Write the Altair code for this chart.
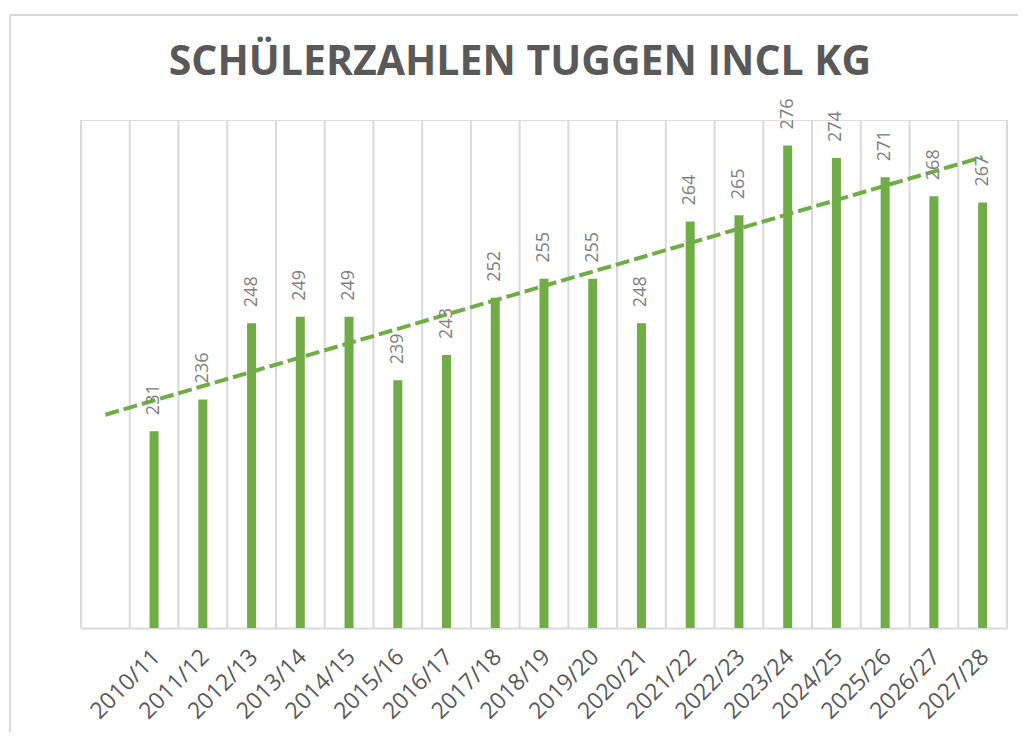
import json
import altair as alt
import pandas as pd

# ---- data ----
categories = ["2010/11", "2011/12", "2012/13", "2013/14", "2014/15", "2015/16",
              "2016/17", "2017/18", "2018/19", "2019/20", "2020/21", "2021/22",
              "2022/23", "2023/24", "2024/25", "2025/26", "2026/27", "2027/28"]
values = [231, 236, 248, 249, 249, 239, 243, 252, 255, 255, 248, 264,
          265, 276, 274, 271, 268, 267]
# the category axis has one empty slot before the first school year
slots = [""] + categories
Y_MIN, Y_MAX = 200, 280

GREEN = "#70AD47"
GRID = "#d9d9d9"
FONT = "Open Sans"

n_slots = len(slots)
df = pd.DataFrame({"idx": list(range(1, n_slots)), "value": values, "cat": categories})
bounds = pd.DataFrame({"b": [i - 0.5 for i in range(n_slots + 1)]})

xscale = alt.Scale(domain=[-0.5, n_slots - 0.5], nice=False, zero=False, padding=0)
yscale = alt.Scale(domain=[Y_MIN, Y_MAX], nice=False, zero=False, padding=0)

label_expr = json.dumps(slots) + "[datum.value]"
x_axis = alt.Axis(values=list(range(1, n_slots)), labelExpr=label_expr,
                  labelAngle=315, labelAlign="right", labelBaseline="middle",
                  labelPadding=25, labelOffset=2, labelFont=FONT, labelFontSize=23,
                  labelColor="#595959", ticks=False, grid=False,
                  domain=True, domainColor=GRID, domainWidth=2,
                  title=None, labelOverlap=False, labelBound=False)

grid = alt.Chart(bounds).mark_rule(color=GRID, strokeWidth=2).encode(
    x=alt.X("b:Q", scale=xscale, axis=x_axis)
)

base = alt.Chart(df)

bars = base.mark_bar(color=GREEN, size=9).encode(
    x=alt.X("idx:Q", scale=xscale, axis=x_axis),
    y=alt.Y("value:Q", scale=yscale, axis=None),
    y2=alt.Y2(datum=Y_MIN),
)

labels = base.mark_text(angle=270, align="left", baseline="middle", dx=16,
                        font=FONT, fontSize=18, color="#808080").encode(
    x=alt.X("idx:Q", scale=xscale, axis=x_axis),
    y=alt.Y("value:Q", scale=yscale, axis=None),
    text=alt.Text("value:Q"),
)

trend = base.transform_regression(
    "idx", "value", method="linear", extent=[0, n_slots - 1]
).mark_line(color=GREEN, strokeWidth=4, strokeDash=[14, 5]).encode(
    x=alt.X("idx:Q", scale=xscale, axis=x_axis),
    y=alt.Y("value:Q", scale=yscale, axis=None),
)

# light chart-area frame (decoration, outside the plot area)
frame_top = alt.Chart(bounds).mark_rule(color=GRID, strokeWidth=2).encode(
    x=alt.value(-71), x2=alt.value(940), y=alt.value(-105))
frame_left = alt.Chart(bounds).mark_rule(color=GRID, strokeWidth=2).encode(
    x=alt.value(-71), y=alt.value(-105), y2=alt.value(620))

chart = alt.layer(grid, bars, trend, labels, frame_top, frame_left).properties(
    width=926,
    height=508,
    title=alt.TitleParams("SCHÜLERZAHLEN TUGGEN INCL KG", font=FONT, fontSize=41,
                          fontWeight="bold", color="#595959", anchor="middle",
                          dx=-24, offset=-70),
    autosize=alt.AutoSizeParams(type="none"),
    padding={"left": 73, "top": 112, "right": 11, "bottom": 104},
).configure_view(stroke=None).configure(background="white")

chart.save("out.html", embed_options={"renderer": "svg", "actions": False})
